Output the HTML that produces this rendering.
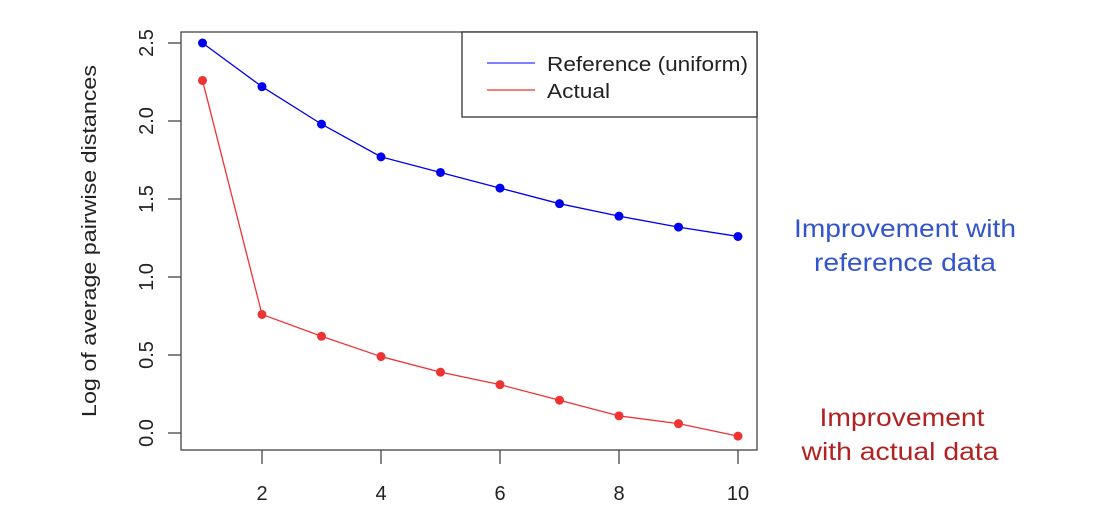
<!DOCTYPE html>
<html><head><meta charset="utf-8"><style>
body{margin:0;background:#fff;}
svg text{font-family:"Liberation Sans",Arial,sans-serif;}
</style></head><body>
<svg width="1116" height="506" id="chart">
<rect x="0" y="0" width="1116" height="506" fill="#fff"/>
<rect x="181" y="32" width="576" height="418" fill="none" stroke="#444" stroke-width="1.3"/>
<g id="axes"></g>
<g id="series"></g>
<g>
<rect x="462" y="32" width="295" height="85" fill="#fff" stroke="#333" stroke-width="1.3"/>
<line x1="487" y1="63" x2="535" y2="63" stroke="#3333ff" stroke-width="1.3"/>
<text x="547" y="71" font-size="20" textLength="201" lengthAdjust="spacingAndGlyphs" fill="#222">Reference (uniform)</text>
<line x1="487" y1="90" x2="535" y2="90" stroke="#ee3333" stroke-width="1.3"/>
<text x="547" y="98" font-size="20" textLength="63" lengthAdjust="spacingAndGlyphs" fill="#222">Actual</text>
</g>
<text transform="translate(96,241) rotate(-90)" text-anchor="middle" font-size="20" textLength="352" lengthAdjust="spacingAndGlyphs" fill="#222">Log of average pairwise distances</text>
<text x="905" y="237" text-anchor="middle" font-size="25" textLength="222" lengthAdjust="spacingAndGlyphs" fill="#3355cc">Improvement with</text>
<text x="905" y="271" text-anchor="middle" font-size="25" textLength="182" lengthAdjust="spacingAndGlyphs" fill="#3355cc">reference data</text>
<text x="902" y="426" text-anchor="middle" font-size="25" textLength="165" lengthAdjust="spacingAndGlyphs" fill="#b22222">Improvement</text>
<text x="900" y="460" text-anchor="middle" font-size="25" textLength="197" lengthAdjust="spacingAndGlyphs" fill="#b22222">with actual data</text>
</svg>
<script>
const categories=[1,2,3,4,5,6,7,8,9,10];
const referenceValues=[2.50,2.22,1.98,1.77,1.67,1.57,1.47,1.39,1.32,1.26];
const actualValues=[2.26,0.76,0.62,0.49,0.39,0.31,0.21,0.11,0.06,-0.02];
const xTicks=[2,4,6,8,10];
const yTicks=[0,0.5,1,1.5,2,2.5];
const yTickLabels=["0.0","0.5","1.0","1.5","2.0","2.5"];
const NS="http://www.w3.org/2000/svg";
function xs(v){return 202.5+(v-1)*59.5;}
function ys(v){return 433-v*156;}
function mk(tag,attrs,parent){const e=document.createElementNS(NS,tag);for(const k in attrs)e.setAttribute(k,attrs[k]);parent.appendChild(e);return e;}
const axes=document.getElementById('axes');
xTicks.forEach(t=>{
  const l=mk('line',{x1:xs(t),x2:xs(t),y1:450,y2:464,stroke:'#444','stroke-width':1.3},axes);
  
  
  const tx=mk('text',{x:xs(t),y:500,'text-anchor':'middle','font-size':20,fill:'#222'},axes);
  tx.textContent=t;
  
  
});
yTicks.forEach((t,i)=>{
  const l=mk('line',{x1:168,x2:181,y1:ys(t),y2:ys(t),stroke:'#444','stroke-width':1.3},axes);
  
  
  const tx=mk('text',{transform:`translate(153,${ys(t)}) rotate(-90)`,'text-anchor':'middle','font-size':20,fill:'#222'},axes);
  tx.textContent=yTickLabels[i];
  
  
});
const sg=document.getElementById('series');
function drawSeries(vals,color,name){
  const pts=categories.map((c,i)=>xs(c)+','+ys(vals[i])).join(' ');
  const pl=mk('polyline',{points:pts,fill:'none',stroke:color,'stroke-width':1.3},sg);
  
  
  categories.forEach((c,i)=>{
    const p=mk('circle',{cx:xs(c),cy:ys(vals[i]),r:4.5,fill:color},sg);
    
    
  });
}
drawSeries(referenceValues,'#0000ee','reference');
drawSeries(actualValues,'#ee3333','actual');
</script>
</body></html>
